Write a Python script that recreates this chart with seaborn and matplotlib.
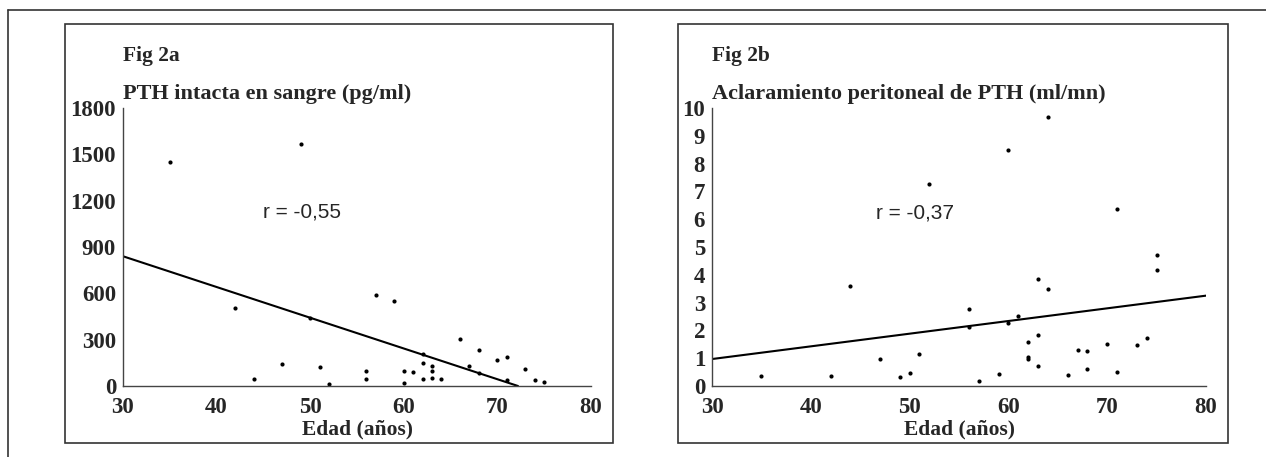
"""Fig 2a / 2b: PTH intacta y aclaramiento peritoneal frente a la edad."""
import matplotlib
matplotlib.use('Agg')
import matplotlib.pyplot as plt
from matplotlib.patches import Rectangle
from matplotlib.lines import Line2D
import seaborn as sns

# %%
# Data
ages_a = [35, 42, 44, 47, 49, 50, 51, 52, 56, 56, 57, 59, 60, 60, 61, 62,
          62, 62, 63, 63, 63, 64, 66, 67, 68, 68, 70, 71, 71, 73, 74, 75]
pth_a = [1450, 505, 45, 140, 1565, 440, 120, 10, 100, 48, 590, 553, 100, 20, 90, 205,
         152, 45, 130, 100, 55, 45, 303, 132, 235, 85, 168, 185, 38, 110, 42, 25]
fit_a_x = [30, 72.2]
fit_a_y = [840, 0]

ages_b = [35, 42, 44, 47, 49, 50, 51, 52, 56, 56, 57, 59, 60, 60, 61, 62, 62,
          62, 63, 63, 63, 64, 64, 66, 67, 68, 68, 70, 71, 71, 73, 74, 75, 75]
clr_b = [0.36, 0.37, 3.58, 0.97, 0.33, 0.45, 1.15, 7.25, 2.76, 2.12, 0.18, 0.42, 8.48,
         2.25, 2.53, 1.59, 1.05, 0.96, 3.86, 1.82, 0.71, 9.68, 3.48, 0.40, 1.29, 1.26,
         0.60, 1.52, 6.37, 0.49, 1.46, 1.72, 4.71, 4.16]
fit_b_x = [30, 80]
fit_b_y = [0.97, 3.25]

xticks = [30, 40, 50, 60, 70, 80]
yticks_a = [0, 300, 600, 900, 1200, 1500, 1800]
yticks_b = list(range(0, 11))

panels = [
    dict(fig='Fig 2a', title='PTH intacta en sangre (pg/ml)', x=ages_a, y=pth_a,
         fx=fit_a_x, fy=fit_a_y, yticks=yticks_a, r='r = -0,55', rpos=(45, 1125)),
    dict(fig='Fig 2b', title='Aclaramiento peritoneal de PTH (ml/mn)', x=ages_b, y=clr_b,
         fx=fit_b_x, fy=fit_b_y, yticks=yticks_b, r='r = -0,37', rpos=(46.6, 6.24)),
]

# %%
sns.set_style('white')
serif = {'family': 'Liberation Serif', 'weight': 'bold'}
W, H = 1266, 457
fig = plt.figure(figsize=(W / 100, H / 100), dpi=100)

# outer frame (top and left edges) and one box per panel
fig.add_artist(Line2D([8 / W, 1], [1 - 10 / H, 1 - 10 / H], color='#333333', lw=1.2))
fig.add_artist(Line2D([8 / W, 8 / W], [0, 1 - 10 / H], color='#333333', lw=1.2))
for x0, x1 in [(65, 613), (678, 1228)]:
    fig.add_artist(Rectangle((x0 / W, 14 / H), (x1 - x0) / W, (443 - 24) / H,
                             fill=False, ec='#333333', lw=1.2))

axes_px = [(123, 591), (712, 1206)]
for p, (ax0, ax1) in zip(panels, axes_px):
    ax = fig.add_axes([ax0 / W, (H - 386) / H, (ax1 - ax0) / W, (386 - 108) / H])
    ax.patch.set_alpha(0)
    sns.scatterplot(x=p['x'], y=p['y'], ax=ax, color='black', s=9, linewidth=0)
    sns.lineplot(x=p['fx'], y=p['fy'], ax=ax, color='black', lw=1.5)

    ax.set_xlim(30, 80)
    ax.set_ylim(0, p['yticks'][-1])
    ax.set_xticks(xticks)
    ax.set_yticks(p['yticks'])
    ax.set_xticklabels([str(t) for t in xticks], fontdict=serif, fontsize=16.5)
    ax.set_yticklabels([str(t) for t in p['yticks']], fontdict=serif, fontsize=16.5)
    ax.tick_params(direction='in', length=4, width=0.8, color='#444444', pad=5)
    ax.tick_params(axis='x', pad=8)
    ax.spines['top'].set_visible(False)
    ax.spines['right'].set_visible(False)
    for s in ['left', 'bottom']:
        ax.spines[s].set_color('#444444')
        ax.spines[s].set_linewidth(1.0)

    ax.set_xlabel('Edad (años)', fontdict=serif, fontsize=15.5, labelpad=1)
    ax.text(0, 1.015, p['title'], transform=ax.transAxes, fontdict=serif, fontsize=16,
            ha='left', va='bottom')
    ax.text(0, 1.15, p['fig'], transform=ax.transAxes, fontdict=serif, fontsize=15.5,
            ha='left', va='bottom')
    ax.text(p['rpos'][0], p['rpos'][1], p['r'], family='Liberation Sans', fontsize=15,
            ha='left', va='center')

plt.savefig('out.png', dpi=100)
